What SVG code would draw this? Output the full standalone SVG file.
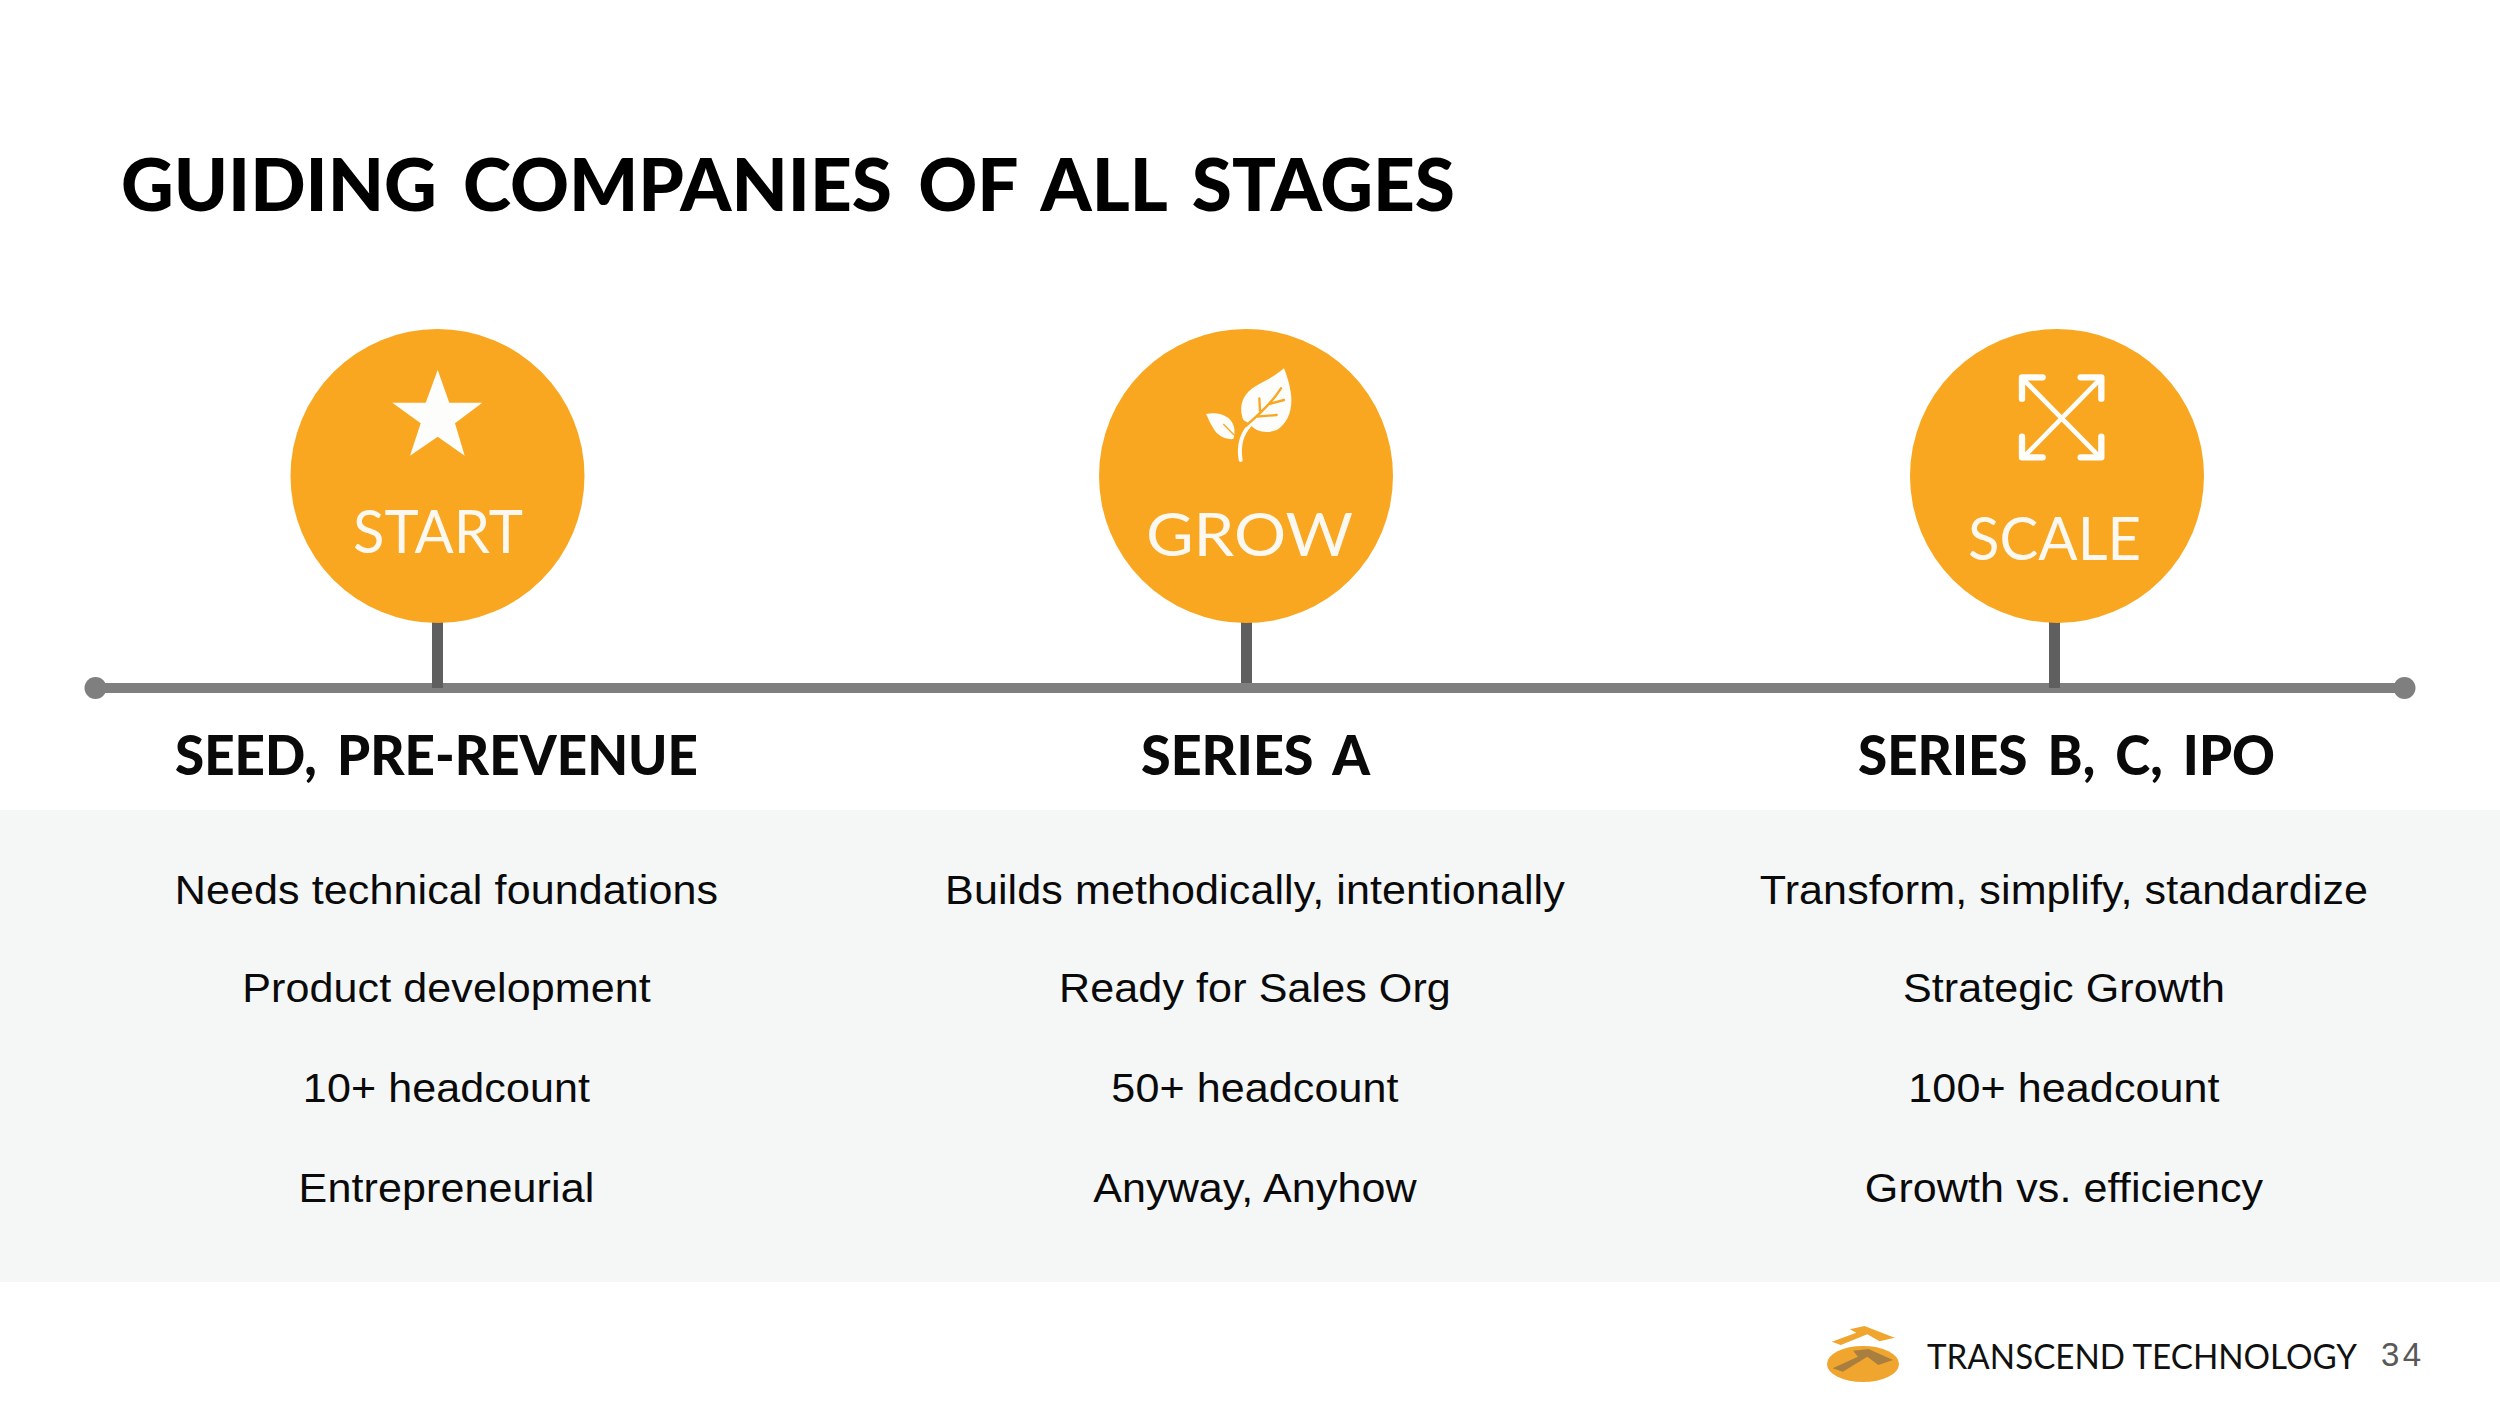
<svg xmlns="http://www.w3.org/2000/svg" width="2500" height="1407" viewBox="0 0 2500 1407">
<style>
.title{font-family:"Lato","Liberation Sans",sans-serif;font-weight:900;font-size:73px;fill:#000;word-spacing:9px}
.stage{font-family:"Lato","Liberation Sans",sans-serif;font-weight:900;font-size:56px;fill:#0a0a0a;word-spacing:8px}
.body{font-family:"Liberation Sans",Arial,sans-serif;font-size:41px;letter-spacing:.1px;fill:#0a0a0a;text-anchor:middle}
.badge{font-family:"Lato","Open Sans",sans-serif;font-weight:400;font-size:60px;fill:#fbf8f1}
.circ{fill:#f9a721}
.stem{fill:#5f5f5f}
.icon{fill:#fdfdfb}
</style>
<rect width="2500" height="1407" fill="#fff"/>
<rect id="panel" x="0" y="810" width="2500" height="472" fill="#f5f7f6"/>
<text id="title" class="title" x="121" y="211" textLength="1334" lengthAdjust="spacingAndGlyphs">GUIDING COMPANIES OF ALL STAGES</text>
<g id="connectors">
<rect x="95" y="683" width="2310" height="10" fill="#7f7f7f"/>
<circle cx="95.500" cy="688" r="11" fill="#7f7f7f"/>
<circle cx="2404.500" cy="688" r="11" fill="#7f7f7f"/>
<rect class="stem" x="432" y="620" width="11" height="68"/>
<rect class="stem" x="1241" y="620" width="11" height="63"/>
<rect class="stem" x="2049" y="620" width="11" height="68"/>
</g>
<g id="node-start">
<circle class="circ" cx="437.500" cy="476" r="147"/>
<polygon class="icon" points="437.700,370 449.300,402.700 482.300,402.700 455,423.300 464.700,455.700 437.700,436.700 410,455.700 420.700,423.300 392.300,402.700 425.700,402.700"/>
<text class="badge" x="353" y="553" textLength="170" lengthAdjust="spacingAndGlyphs">START</text>
</g>
<g id="node-grow">
<circle class="circ" cx="1246" cy="476" r="147"/>
<g transform="translate(1080 320) scale(.33333)">
<path class="icon" d="M612 145C575 178 530 190 505 215C483 238 478 270 490 300L510 312C525 335 560 342 590 330C625 310 640 265 632 215C628 190 620 165 612 145Z"/>
<path class="icon" d="M378 282C405 276 440 282 455 305C466 322 465 340 460 357C435 360 410 345 400 325C390 310 385 295 378 282Z"/>
<path d="M482 420C476 385 482 345 510 315" fill="none" stroke="#fdfdfb" stroke-width="12" stroke-linecap="round"/>
<path d="M430 312L462 345" fill="none" stroke="#f9a721" stroke-width="4"/>
<path d="M497 318C530 290 575 250 603 205M540 272L538 235M567 252L612 240M530 290L590 285" fill="none" stroke="#f9a721" stroke-width="7" stroke-linecap="round"/>
</g>
<text class="badge" x="1146" y="556" textLength="207" lengthAdjust="spacingAndGlyphs">GROW</text>
</g>
<g id="node-scale">
<circle class="circ" cx="2057" cy="476" r="147"/>
<g transform="translate(1890 320) scale(.33333)" fill="none" stroke="#fdfdfb" stroke-linecap="round" stroke-linejoin="round">
<path d="M402 180L628 410M628 180L402 410" stroke-width="14"/>
<path d="M396 236V172H458M572 172H634V236M396 350V412H458M572 412H634V350" stroke-width="19"/>
</g>
<text class="badge" x="1968" y="560" textLength="173" lengthAdjust="spacingAndGlyphs">SCALE</text>
</g>
<g id="col-1">
<text class="stage" x="175" y="775" textLength="523" lengthAdjust="spacingAndGlyphs">SEED, PRE-REVENUE</text>
<g transform="translate(446.500 0) scale(1.05 1)">
<text class="body" x="0" y="904">Needs technical foundations</text>
<text class="body" x="0" y="1002">Product development</text>
<text class="body" x="0" y="1102">10+ headcount</text>
<text class="body" x="0" y="1202">Entrepreneurial</text>
</g>
</g>
<g id="col-2">
<text class="stage" x="1141" y="775" textLength="229" lengthAdjust="spacingAndGlyphs">SERIES A</text>
<g transform="translate(1255 0) scale(1.05 1)">
<text class="body" x="0" y="904">Builds methodically, intentionally</text>
<text class="body" x="0" y="1002">Ready for Sales Org</text>
<text class="body" x="0" y="1102">50+ headcount</text>
<text class="body" x="0" y="1202">Anyway, Anyhow</text>
</g>
</g>
<g id="col-3">
<text class="stage" x="1858" y="775" textLength="417" lengthAdjust="spacingAndGlyphs">SERIES B, C, IPO</text>
<g transform="translate(2064 0) scale(1.05 1)">
<text class="body" x="0" y="904">Transform, simplify, standardize</text>
<text class="body" x="0" y="1002">Strategic Growth</text>
<text class="body" x="0" y="1102">100+ headcount</text>
<text class="body" x="0" y="1202">Growth vs. efficiency</text>
</g>
</g>
<g id="logo">
<ellipse cx="1863" cy="1364" rx="36" ry="18" fill="#f0a52f"/>
<g transform="translate(1800 1300) scale(.408 .3333)">
<path d="M122 88L158 78L232 113L195 124L165 103L100 135L78 125L138 98Z" fill="#f0a52f"/>
<path d="M130 152L168 147L228 180L192 195L165 170L105 215L80 205L142 170Z" fill="#a97f3f"/>
</g>
<text x="1927" y="1368.500" textLength="430" lengthAdjust="spacingAndGlyphs" font-family="Lato, sans-serif" font-size="34" fill="#111">TRANSCEND TECHNOLOGY</text>
<text x="2381" y="1366" textLength="40" font-family="'Liberation Sans', sans-serif" font-size="33" fill="#595959">34</text>
</g>
</svg>
